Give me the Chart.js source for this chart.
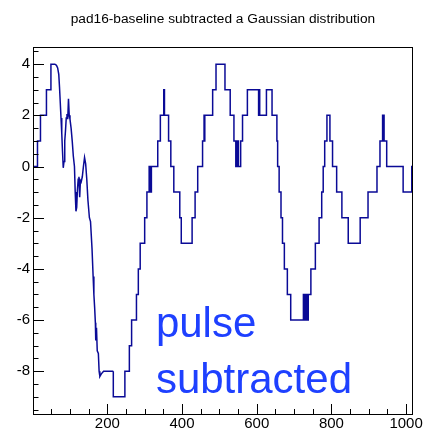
<!DOCTYPE html>
<html>
<head>
<meta charset="utf-8">
<title>pad16-baseline subtracted a Gaussian distribution</title>
<script src="https://cdn.jsdelivr.net/npm/chart.js@4.4.1/dist/chart.umd.min.js"></script>
<style>
  body { margin: 0; background: #fff; }
  canvas { display: block; }
</style>
</head>
<body>
<canvas id="chart" width="424" height="433"></canvas>
<script>
// title and axis labels
const titleText = "pad16-baseline subtracted a Gaussian distribution";
const noteLines = ["pulse", "subtracted"];
const xTicks = [200, 400, 600, 800, 1000];
const yTicks = [-8, -6, -4, -2, 0, 2, 4];

// leading steps (bin edges, one more than levels)
const headEdges = [1, 13, 21, 37, 49, 60];
const headLevels = [0, 1, 2, 3, 4];

// the pulse itself, fine-grained
const pulseX = [60, 64, 67, 70, 72, 74, 76, 78, 80, 82,
  84, 86, 88, 90, 92, 94, 96, 98, 100, 103,
  106, 109, 112, 114, 116, 118, 120, 122, 124, 126,
  128, 130, 133, 136, 139, 142, 145, 148, 152, 155,
  159, 162, 164, 166, 168, 169, 171, 173, 176, 178,
  180, 184, 190, 216];
const pulseY = [4, 3.95, 3.85, 3.6, 3.1, 2.5, 1.9, 1.3, 0.6, -0.05,
  0.2, 1.0, 1.4, 1.9, 2.05, 1.85, 2.65, 2.0, 1.85, 1.5,
  1.0, 0.4, 0.0, -1.0, -1.75, -1.6, -0.9, -0.5, -0.4, -1.2,
  -0.55, -0.6, -0.4, 0.0, 0.35, 0.1, -0.5, -1.3, -2.0, -2.15,
  -3.2, -4.3, -5.0, -5.5, -6.1, -6.8, -6.3, -7.2, -7.3, -8.0,
  -8.2, -8.1, -8.0, -8.0];

// after the pulse: integer steps
const tailEdges = [216, 247, 259, 265, 278, 283, 288, 300, 306, 312,
  314, 318, 335, 342, 351, 353, 364, 370, 378, 394,
  398, 427, 435, 442, 455, 459, 460, 461, 482, 491,
  515, 529, 539, 544, 546, 547, 550, 551, 557, 562,
  575, 605, 606, 608, 626, 641, 654, 656, 660, 665,
  669, 674, 682, 691, 725, 727, 729, 731, 733, 735,
  738, 745, 757, 767, 774, 778, 782, 788, 796, 803,
  814, 828, 845, 877, 898, 922, 930, 937, 941, 948,
  992, 1015, 1018];
const tailLevels = [-9, -8, -7, -6, -5, -4, -3, -2, -1, 0,
  -1, 0, 1, 2, 3, 2, 1, 0, -1, -2,
  -3, -2, -1, 0, 1, 2, 1, 2, 3, 4,
  3, 2, 1, 0, 1, 0, 1, 0, 1, 2,
  3, 2, 3, 2, 3, 2, 1, 0, -1, -2,
  -3, -4, -5, -6, -5, -6, -5, -6, -5, -6,
  -5, -4, -3, -2, -1, 0, 1, 2, 1, 0,
  -1, -2, -3, -2, -1, 0, 1, 2, 1, 0,
  -1, 0];

const LINE = "#0a0a96";
const FONT = "'Liberation Sans', Arial, Helvetica, sans-serif";

// turn edges + levels into points for a stepped line
const stepPoints = (edges, levels) => {
  const pts = levels.map((v, i) => ({ x: edges[i], y: v }));
  pts.push({ x: edges[edges.length - 1], y: levels[levels.length - 1] });
  return pts;
};

const headData = stepPoints(headEdges, headLevels);
const pulseData = pulseX.map((x, i) => ({ x: x, y: pulseY[i] }));
// start the tail from the last pulse point so the drop is drawn
const tailData = [{ x: pulseX[pulseX.length - 1], y: pulseY[pulseY.length - 1] }]
  .concat(stepPoints(tailEdges, tailLevels));

// ROOT style frame, inner ticks, title and the blue note
const rootFrame = {
  id: "rootFrame",
  afterDraw(chart, args, opts) {
    const { ctx, chartArea: a, scales } = chart;
    const xs = scales.x, ys = scales.y;
    ctx.save();
    ctx.strokeStyle = "#000";
    ctx.lineWidth = 1;
    ctx.beginPath();
    for (let v = 50; v <= 1000; v += 50) {
      const px = Math.round(xs.getPixelForValue(v)) + 0.5;
      const len = v % 200 === 0 ? 10 : 5;
      ctx.moveTo(px, a.bottom);
      ctx.lineTo(px, a.bottom - len);
    }
    for (let v = -9.5; v <= 4.5; v += 0.5) {
      const py = Math.round(ys.getPixelForValue(v)) + 0.5;
      const len = v % 2 === 0 ? 11 : 5.5;
      ctx.moveTo(a.left, py);
      ctx.lineTo(a.left + len, py);
    }
    ctx.stroke();
    ctx.strokeRect(Math.floor(a.left) + 0.5, Math.floor(a.top) + 0.5,
      Math.floor(a.right) - Math.floor(a.left), Math.floor(a.bottom) - Math.floor(a.top));

    // title
    ctx.fillStyle = "#000";
    ctx.font = "13.7px " + FONT;
    ctx.textAlign = "center";
    ctx.textBaseline = "alphabetic";
    ctx.fillText(titleText, (a.left + a.right) / 2, opts.titleY);

    // note
    ctx.fillStyle = opts.noteColor;
    ctx.font = opts.noteSize + "px " + FONT;
    ctx.textAlign = "left";
    const nx = xs.getPixelForValue(opts.noteX);
    noteLines.forEach((t, i) => {
      ctx.fillText(t, nx, ys.getPixelForValue(opts.noteY[i]));
    });
    ctx.restore();
  }
};

const lineStyle = {
  borderColor: LINE,
  borderWidth: 1.5,
  pointRadius: 0,
  fill: false,
  tension: 0
};

new Chart(document.getElementById("chart").getContext("2d"), {
  type: "line",
  data: {
    datasets: [
      Object.assign({ data: headData, stepped: true }, lineStyle),
      Object.assign({ data: pulseData, stepped: false }, lineStyle),
      Object.assign({ data: tailData, stepped: true }, lineStyle)
    ]
  },
  options: {
    responsive: false,
    animation: false,
    events: [],
    parsing: false,
    layout: { padding: { top: 47, right: 11, bottom: 0, left: 0 } },
    plugins: {
      legend: { display: false },
      tooltip: { enabled: false },
      title: { display: false },
      rootFrame: {
        titleY: 23,
        noteX: 330,
        noteY: [-6.65, -8.85],
        noteSize: 42,
        noteColor: "#1e40ff"
      }
    },
    scales: {
      x: {
        type: "linear",
        min: 1,
        max: 1018,
        grid: { display: false, drawTicks: false },
        border: { display: false },
        ticks: {
          padding: 1,
          color: "#000",
          font: { family: FONT, size: 15 },
          maxRotation: 0,
          autoSkip: false,
          callback: (v) => String(v)
        },
        afterBuildTicks: (s) => { s.ticks = xTicks.map((v) => ({ value: v })); },
        afterFit: (s) => { s.height = 19; }
      },
      y: {
        type: "linear",
        min: -9.67,
        max: 4.67,
        grid: { display: false, drawTicks: false },
        border: { display: false },
        ticks: {
          padding: 3,
          color: "#000",
          font: { family: FONT, size: 15 },
          autoSkip: false,
          callback: (v) => String(v)
        },
        afterBuildTicks: (s) => { s.ticks = yTicks.map((v) => ({ value: v })); },
        afterFit: (s) => { s.width = 33; }
      }
    }
  },
  plugins: [rootFrame]
});
</script>
</body>
</html>
